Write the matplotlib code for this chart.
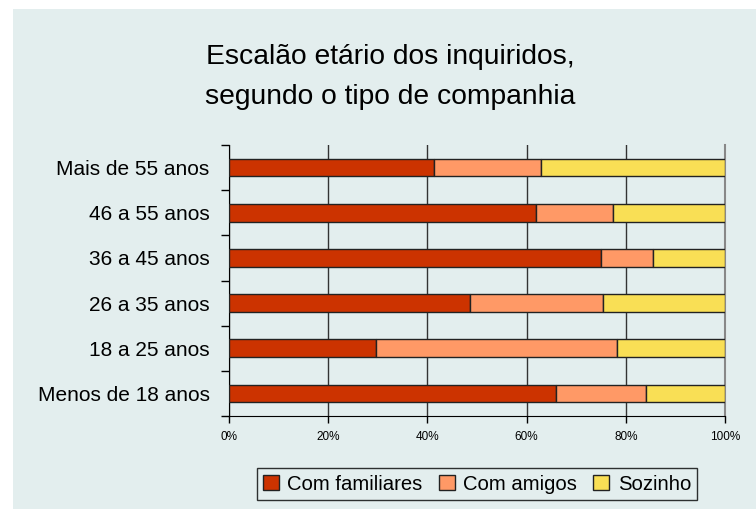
import matplotlib
matplotlib.use('Agg')
import matplotlib.pyplot as plt
from matplotlib.patches import Rectangle
import numpy as np

plt.rcParams['font.family'] = ['Liberation Sans Narrow', 'Liberation Sans', 'DejaVu Sans']

# Data (percent of respondents per age group)
age_groups = ['Menos de 18 anos', '18 a 25 anos', '26 a 35 anos',
              '36 a 45 anos', '46 a 55 anos', 'Mais de 55 anos']
com_familiares = [65.9, 29.6, 48.5, 75.0, 61.9, 41.4]
com_amigos = [18.2, 48.7, 27.0, 10.5, 15.6, 21.6]
sozinho = [15.9, 21.7, 24.5, 14.5, 22.5, 37.0]
series_names = ['Com familiares', 'Com amigos', 'Sozinho']
x_ticks = [0, 20, 40, 60, 80, 100]

colors = ['#CC3300', '#FF9966', '#F9DF55']
bg = '#e3eeee'

fig = plt.figure(figsize=(7.56, 5.09), dpi=100)
fig.patch.set_facecolor('white')
# patterned panel behind everything
panel = Rectangle((13 / 756, 0), 1 - 13 / 756, 1 - 9 / 509,
                  transform=fig.transFigure, facecolor=bg,
                  edgecolor='none', zorder=-10)
fig.patches.append(panel)

ax = fig.add_axes([229 / 756, 1 - 416 / 509, (725 - 229) / 756, (416 - 145) / 509])
ax.set_zorder(5)
ax.set_facecolor(bg)

y = np.arange(len(age_groups))
left = np.zeros(len(age_groups))
for vals, name, c in zip([com_familiares, com_amigos, sozinho], series_names, colors):
    ax.barh(y, vals, left=left, height=0.39, color=c, edgecolor='#222222',
            linewidth=1.0, label=name, zorder=3)
    left += np.array(vals)

ax.set_xlim(0, 100)
ax.set_ylim(-0.5, len(age_groups) - 0.5)
ax.set_xticks(x_ticks)
ax.set_xticklabels([f'{v}%' for v in x_ticks], fontsize=8.5)
ax.set_yticks(y)
ax.set_yticklabels(age_groups, fontsize=15)
ax.set_yticks(np.arange(-0.5, len(age_groups), 1), minor=True)
ax.tick_params(axis='y', which='major', length=0, pad=14)
ax.tick_params(axis='y', which='minor', length=6, width=1, color='black')
ax.tick_params(axis='x', length=5, width=1, color='black', pad=6)

ax.grid(axis='x', color='#333333', linewidth=1.0, zorder=1)
ax.set_axisbelow(True)
ax.spines['top'].set_visible(False)
ax.spines['right'].set_color('#888888')
ax.spines['right'].set_linewidth(1.5)
ax.spines['left'].set_color('black')
ax.spines['bottom'].set_color('black')

fig.text(390 / 756, 1 - 77 / 509, 'Escalão etário dos inquiridos,\nsegundo o tipo de companhia',
         ha='center', va='center', fontsize=20.3, linespacing=1.65, zorder=6)

leg = fig.legend(loc='center', bbox_to_anchor=(477 / 756, 1 - 484 / 509), ncol=3,
                 fontsize=14.6, frameon=True, fancybox=False, edgecolor='black',
                 handlelength=0.8, handleheight=0.8, handletextpad=0.4,
                 columnspacing=0.8, borderpad=0.3)
leg.set_zorder(6)
leg.get_frame().set_facecolor(bg)
leg.get_frame().set_linewidth(1.0)

fig.savefig('out.png', dpi=100, facecolor=fig.get_facecolor())
